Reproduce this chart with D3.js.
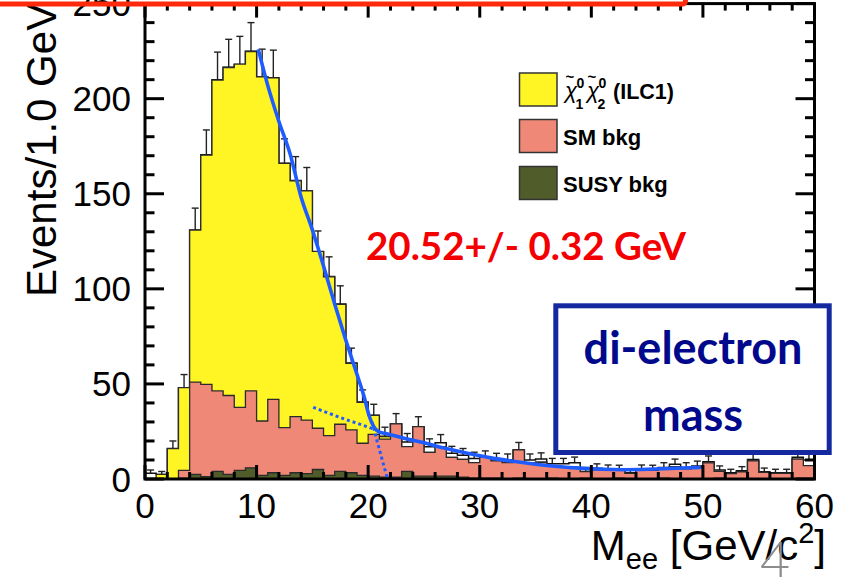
<!DOCTYPE html>
<html>
<head>
<meta charset="utf-8">
<script src="https://cdn.jsdelivr.net/npm/d3@7"></script>
<style>
  html, body { margin: 0; padding: 0; background: #fff; overflow: hidden; }
  svg { display: block; }
</style>
</head>
<body>
<svg id="chart" width="847" height="577"></svg>
<script>
// Di-electron invariant mass, 1 GeV bins from 0 to 60 GeV
const binLow = [0,1,2,3,4,5,6,7,8,9,10,11,12,13,14,15,16,17,18,19,
                20,21,22,23,24,25,26,27,28,29,30,31,32,33,34,35,36,37,38,39,
                40,41,42,43,44,45,46,47,48,49,50,51,52,53,54,55,56,57,58,59];

// Observed events per bin (drawn with sqrt(N) error bars)
const observed = [3, 2.4, 16, 48, 131, 170.5, 210, 216.5, 218, 225,
                  211.5, 211, 166, 157, 151.5, 119.5, 106.5, 92, 61, 40.5,
                  33.5, 22.5, 29, 19.5, 27.5, 17, 19, 13.5, 12.5, 10.8,
                  11.4, 10.3, 10, 15.3, 10, 10.5, 8, 8, 8.6, 4,
                  5.6, 5.1, 5, 3.3, 5.1, 5, 6.1, 7.7, 6.1, 6.8,
                  9.1, 4.7, 3.3, 4.4, 10.3, 3.8, 3.3, 3.3, 11.4, 10];

// Stacked components
const susyBkg = [0, 0, 0, 0.5, 2.4, 1.3, 4, 2.4, 4.5, 5.9,
                 1.9, 3.3, 1.9, 3.3, 2.8, 5, 1.9, 4, 3.3, 1.9,
                 1.5, 1, 1, 4, 1.5, 1.5, 1.5, 1.5, 1, 0.5,
                 0.5, 0.5, 0, 0.5, 0, 0, 0.5, 0, 0, 0.5,
                 0, 0, 0.5, 0, 0, 0, 0.5, 0, 0, 0,
                 0, 0.5, 0, 0, 0, 0, 0, 0, 0, 0];
const smBkg = [0, 0, 0, 4, 48.5, 48.5, 42.3, 41.5, 33.2, 40.4,
               28.6, 38.6, 25.1, 29.5, 28.2, 21.7, 20.9, 24.8, 22.5, 16.9,
               22, 20, 28, 13, 26, 12.5, 15.5, 9.9, 9.3, 8.1,
               10.9, 9, 8.6, 14.8, 8.3, 8.8, 6.4, 6.5, 6.1, 3.4,
               5, 4.6, 4, 3, 4.5, 4.5, 5, 6.5, 5.3, 6,
               8.5, 3.5, 2.8, 3.8, 9.5, 3.5, 3, 3, 10.5, 7];
const signal = [0, 2.4, 16, 43.5, 80, 120.5, 163.5, 172.5, 180.5, 178.5,
                181, 169, 139, 124, 120.5, 93, 83.5, 63, 35, 21.5,
                10, 1.3, 0, 0, 0, 0, 0, 0, 0, 0,
                0, 0, 0, 0, 0, 0, 0, 0, 0, 0,
                0, 0, 0, 0, 0, 0, 0, 0, 0, 0,
                0, 0, 0, 0, 0, 0, 0, 0, 0, 0];

// Fit: total (solid), background part and signal edge (dotted), [GeV, events]
const fitTotal = [[10.15,226],[11,207],[12,188],[13,171],[14,148],[15,131],[16,112],[17,92],
                  [18,73],[19,55],[19.6,44],[20.1,33],[20.5,27.5],[20.9,25],[21.5,24],[22.2,23],
                  [23.5,21],[25,19],[27,16],[29,13.4],[31,11.1],[33,9.3],[35,7.8],[37,6.6],
                  [39,5.7],[41,5.1],[43,4.9],[45,5.1],[47,5.5],[49.8,6.1]];
const fitBkgPart = [[15.07,37.7],[16.5,34.5],[18,31.3],[19.5,28.3],[20.6,26],[21.2,24.5]];
const fitSigEdge = [[20.35,30],[20.75,21],[21.1,13.5],[21.4,7],[21.7,1]];

const xTickLabels = [0, 10, 20, 30, 40, 50, 60];
const yTickLabels = [0, 50, 100, 150, 200, 250];

const fitResult = "20.52+/- 0.32 GeV";
const noteLines = ["di-electron", "mass"];

const colors = { signal: "#fff524", sm: "#f08878", susy: "#505c2a" };

const svg = d3.select("#chart");
const x = d3.scaleLinear().domain([0, 60]).range([145, 814.5]);
const y = d3.scaleLinear().domain([0, 250]).range([479, 3.6]);

// ---- observed: error bars and outline (partly hidden by the stack drawn over it)
const gObs = svg.append("g");
binLow.forEach((b, i) => {
  const v = observed[i];
  if (v <= 0) return;
  const e = Math.sqrt(v);
  const cx = x(b + 0.5);
  gObs.append("line").attr("x1", cx).attr("x2", cx)
    .attr("y1", y(Math.max(0, v - e))).attr("y2", y(v + e))
    .attr("stroke", "#222").attr("stroke-width", 1.4);
  [v + e, Math.max(0, v - e)].forEach(t => {
    gObs.append("line").attr("x1", cx - 3.5).attr("x2", cx + 3.5)
      .attr("y1", y(t)).attr("y2", y(t))
      .attr("stroke", "#222").attr("stroke-width", 1.4);
  });
});
const stepPts = binLow.map((b, i) => [b, observed[i]]);
stepPts.push([60, observed[observed.length - 1]]);
gObs.append("path")
  .attr("d", d3.area().curve(d3.curveStepAfter)
    .x(d => x(d[0])).y0(y(0)).y1(d => y(d[1]))(stepPts))
  .attr("fill", "#fff").attr("stroke", "#111").attr("stroke-width", 1.5);

// ---- stacked components
const table = binLow.map((b, i) => ({ b, susy: susyBkg[i], sm: smBkg[i], signal: signal[i] }));
table.push({ b: 60, susy: susyBkg[59], sm: smBkg[59], signal: signal[59] });
const stack = d3.stack().keys(["susy", "sm", "signal"])(table);
const stackArea = d3.area().curve(d3.curveStepAfter)
  .x(d => x(d.data.b)).y0(d => y(d[0])).y1(d => y(d[1]));
const gStack = svg.append("g");
// draw top layer first so lower layer outlines stay visible
[2, 1, 0].forEach(k => {
  const layer = stack[k];
  const cum = table.map(r => ({ data: r, 0: 0, 1: 0 }));
  layer.forEach((d, i) => { cum[i][0] = 0; cum[i][1] = d[1]; });
  gStack.append("path")
    .attr("d", stackArea(cum))
    .attr("fill", colors[layer.key])
    .attr("stroke", "#2a2a2a").attr("stroke-width", 1.3);
});

// ---- fit curves
const fitLine = d3.line().curve(d3.curveMonotoneX).x(d => x(d[0])).y(d => y(d[1]));
svg.append("path").attr("d", fitLine(fitTotal))
  .attr("fill", "none").attr("stroke", "#1e5cff").attr("stroke-width", 3.6);
svg.append("path").attr("d", fitLine(fitBkgPart))
  .attr("fill", "none").attr("stroke", "#1e5cff").attr("stroke-width", 3)
  .attr("stroke-dasharray", "3,3");
svg.append("path").attr("d", d3.line().x(d => x(d[0])).y(d => y(d[1]))(fitSigEdge))
  .attr("fill", "none").attr("stroke", "#1e5cff").attr("stroke-width", 3)
  .attr("stroke-dasharray", "3,3");

// ---- frame and ticks
const gAx = svg.append("g").attr("stroke", "#000").attr("stroke-width", 3);
gAx.append("rect").attr("x", x(0)).attr("y", y(250))
  .attr("width", x(60) - x(0)).attr("height", y(0) - y(250)).attr("fill", "none");
d3.range(0, 61, 2).forEach(v => {
  const len = v % 10 === 0 ? 14 : 7;
  gAx.append("line").attr("x1", x(v)).attr("x2", x(v)).attr("y1", y(0)).attr("y2", y(0) - len);
  gAx.append("line").attr("x1", x(v)).attr("x2", x(v)).attr("y1", y(250)).attr("y2", y(250) + len);
});
d3.range(0, 251, 10).forEach(v => {
  const len = v % 50 === 0 ? 19 : 9.5;
  gAx.append("line").attr("x1", x(0)).attr("x2", x(0) + len).attr("y1", y(v)).attr("y2", y(v));
  gAx.append("line").attr("x1", x(60)).attr("x2", x(60) - len).attr("y1", y(v)).attr("y2", y(v));
});

const axisFont = "'Liberation Sans', Arial, Helvetica, sans-serif";
svg.append("g").selectAll("text").data(xTickLabels).join("text")
  .attr("x", d => x(d)).attr("y", 518).attr("text-anchor", "middle")
  .attr("font-family", axisFont).attr("font-size", 35).text(d => d);
svg.append("g").selectAll("text").data(yTickLabels).join("text")
  .attr("x", 131).attr("y", d => y(d) + 12.5).attr("text-anchor", "end")
  .attr("font-family", axisFont).attr("font-size", 35).text(d => d);

// axis titles
svg.append("text").attr("transform", "translate(56,297) rotate(-90)")
  .attr("text-anchor", "start").attr("font-family", axisFont).attr("font-size", 42)
  .text("Events/1.0 GeV");
const xt = svg.append("text").attr("x", 826).attr("y", 560).attr("text-anchor", "end")
  .attr("font-family", axisFont).attr("font-size", 42);
xt.append("tspan").text("M");
xt.append("tspan").attr("font-size", 29).attr("dy", 9).text("ee");
xt.append("tspan").attr("dy", -9).text(" [GeV/c");
xt.append("tspan").attr("font-size", 29).attr("dy", -17).text("2");
xt.append("tspan").attr("dy", 17).text("]");

// ---- legend
const legendItems = [
  { key: "signal", y: 73 },
  { key: "sm", y: 119.5, label: "SM bkg" },
  { key: "susy", y: 166.5, label: "SUSY bkg" }
];
const gLeg = svg.append("g").attr("font-family", axisFont).attr("font-weight", "bold");
legendItems.forEach(it => {
  gLeg.append("rect").attr("x", 519.5).attr("y", it.y).attr("width", 37.5).attr("height", 33)
    .attr("fill", colors[it.key]).attr("stroke", "#333").attr("stroke-width", 1.5);
  if (it.label) {
    gLeg.append("text").attr("x", 563).attr("y", it.y + 25).attr("font-size", 22).text(it.label);
  }
});
// chi~0_1 chi~0_2 (ILC1)
[[565, "1"], [587, "2"]].forEach(([cx, sub]) => {
  gLeg.append("text").attr("x", cx).attr("y", 98).attr("font-size", 22)
    .attr("font-weight", "normal").attr("font-style", "italic").text("χ");
  gLeg.append("text").attr("x", cx + 0.5).attr("y", 82).attr("font-size", 15).text("~");
  gLeg.append("text").attr("x", cx + 11.5).attr("y", 88).attr("font-size", 14).text("0");
  gLeg.append("text").attr("x", cx + 10.5).attr("y", 109).attr("font-size", 14).text(sub);
});
gLeg.append("text").attr("x", 613).attr("y", 99).attr("font-size", 21.5).text("(ILC1)");

// ---- fit result
svg.append("text").attr("x", 366).attr("y", 260)
  .attr("font-family", "Lato, 'Open Sans', sans-serif").attr("font-weight", "bold")
  .attr("font-size", 38.5).attr("fill", "#f40000").text(fitResult);

// ---- note box
svg.append("rect").attr("x", 555.8).attr("y", 305.8).attr("width", 273.4).attr("height", 146.7)
  .attr("fill", "#fff").attr("stroke", "#1428a0").attr("stroke-width", 5);
svg.append("g").selectAll("text").data(noteLines).join("text")
  .attr("x", 693).attr("y", (d, i) => i === 0 ? 364 : 431)
  .attr("text-anchor", "middle")
  .attr("font-family", "Lato, 'Open Sans', sans-serif").attr("font-weight", "bold")
  .attr("font-size", 45).attr("fill", "#00088c").text(d => d);

// ---- slide page number and title box edge
svg.append("text").attr("x", 775).attr("y", 578).attr("text-anchor", "middle")
  .attr("font-family", "Lato, sans-serif").attr("font-weight", 300)
  .attr("font-size", 52).attr("fill", "#8c8c8c").text("4");
svg.append("rect").attr("x", -20).attr("y", -60).attr("width", 705.5).attr("height", 64)
  .attr("rx", 3).attr("fill", "none").attr("stroke", "#ff2a0c").attr("stroke-width", 5);
</script>
</body>
</html>
